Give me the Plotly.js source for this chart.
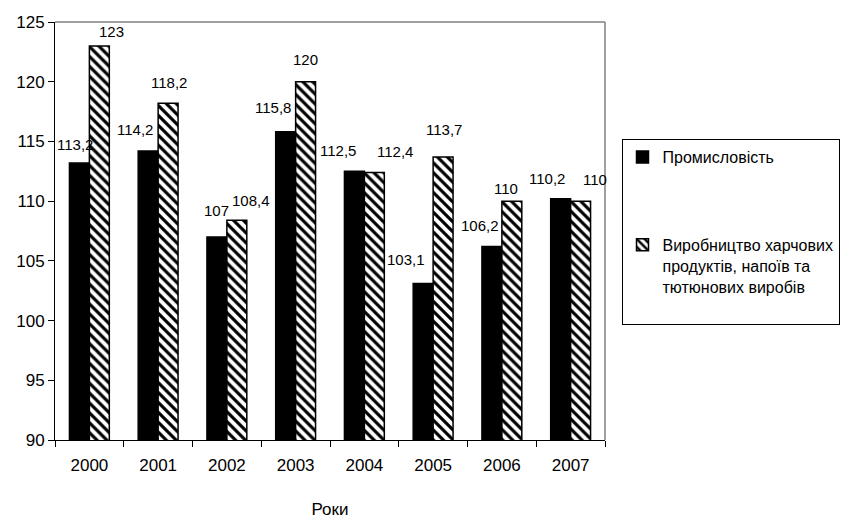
<!DOCTYPE html>
<html>
<head>
<meta charset="utf-8">
<script src="https://cdn.plot.ly/plotly-3.0.1.min.js"></script>
<style>
html,body{margin:0;padding:0;background:#fff;}
#chart{width:851px;height:522px;}
</style>
</head>
<body>
<div id="chart"></div>
<script>
const years = ['2000','2001','2002','2003','2004','2005','2006','2007'];
const industry = [113.2, 114.2, 107, 115.8, 112.5, 103.1, 106.2, 110.2];
const food = [123, 118.2, 108.4, 120, 112.4, 113.7, 110, 110];
const seriesNames = ['Промисловість', 'Виробництво харчових<br>продуктів, напоїв та<br>тютюнових виробів<br> '];
const yTicks = [90, 95, 100, 105, 110, 115, 120, 125];

// label placement nudges (pixels), as in the reference's label layout
const industryLabelDx = [-4, -13, 0, -13, -16, -17, -12, -14];
const industryLabelDy = [18, 21, 26, 24, 21, 24, 21, 20];
const foodLabelDx = [12, 1, 14, 0, 21, 1, -6, 14];
const foodLabelDy = [14, 21, 20, 22, 21, 27, 13, 22];

const fmt = v => String(v).replace('.', ',');
const FONT = 'Liberation Sans, Arial, sans-serif';
const BAR_HALF = 10;

const traces = [
  {
    type: 'bar', x: years, y: industry, name: seriesNames[0],
    marker: {color: '#000', line: {color: '#000', width: 1.5}},
    legendgroup: 'a'
  },
  {
    type: 'bar', x: years, y: food, name: seriesNames[1],
    marker: {color: '#fff', line: {color: '#000', width: 1.5},
      pattern: {shape: '\\', fgcolor: '#000', bgcolor: '#fff', size: 7, solidity: 0.45, fillmode: 'replace'}},
    legendgroup: 'b'
  }
];

const annotations = [];
years.forEach((yr, i) => {
  // on a category axis, i is the category's position
  annotations.push({x: i, y: industry[i], xref: 'x', yref: 'y', text: fmt(industry[i]), showarrow: false,
    xanchor: 'center', yanchor: 'middle', xshift: -BAR_HALF + industryLabelDx[i], yshift: industryLabelDy[i],
    font: {family: FONT, size: 15, color: '#000'}});
  annotations.push({x: i, y: food[i], xref: 'x', yref: 'y', text: fmt(food[i]), showarrow: false,
    xanchor: 'center', yanchor: 'middle', xshift: BAR_HALF + foodLabelDx[i], yshift: foodLabelDy[i],
    font: {family: FONT, size: 15, color: '#000'}});
});

const layout = {
  width: 851, height: 522,
  margin: {l: 55, r: 243, t: 22, b: 82},
  paper_bgcolor: '#fff', plot_bgcolor: '#fff',
  font: {family: FONT, color: '#000'},
  barmode: 'group', bargap: 0.42, bargroupgap: 0,
  showlegend: true,
  legend: {
    x: 1.03, xanchor: 'left', y: 0.72, yanchor: 'top',
    bordercolor: '#000', borderwidth: 1, bgcolor: '#fff',
    font: {family: FONT, size: 16, color: '#000'},
    tracegroupgap: 64, traceorder: 'grouped', itemwidth: 30, valign: 'top'
  },
  xaxis: {
    type: 'category', tickson: 'boundaries',
    categoryorder: 'array', categoryarray: years,
    range: [-0.5, years.length - 0.5],
    ticks: 'outside', ticklen: 6, tickcolor: '#000',
    showline: true, linecolor: '#000', linewidth: 1,
    tickfont: {family: FONT, size: 17, color: '#000'},
    ticklabelstandoff: 10,
    title: {text: 'Роки', font: {family: FONT, size: 17, color: '#000'}, standoff: 28},
    showgrid: false, zeroline: false, fixedrange: true
  },
  yaxis: {
    range: [90, 125], tickvals: yTicks, ticktext: yTicks.map(String),
    ticks: 'outside', ticklen: 6, tickcolor: '#000',
    showline: true, linecolor: '#000', linewidth: 1,
    tickfont: {family: FONT, size: 17, color: '#000'},
    showgrid: false, zeroline: false, fixedrange: true
  },
  annotations: annotations,
  shapes: [
    {type: 'line', xref: 'paper', yref: 'paper', x0: 0, x1: 1, y0: 1, y1: 1, line: {color: '#808080', width: 1.5}},
    {type: 'line', xref: 'paper', yref: 'paper', x0: 1, x1: 1, y0: 0, y1: 1, line: {color: '#808080', width: 1.5}}
  ]
};

Plotly.newPlot('chart', traces, layout, {staticPlot: true, displayModeBar: false});
</script>
</body>
</html>
